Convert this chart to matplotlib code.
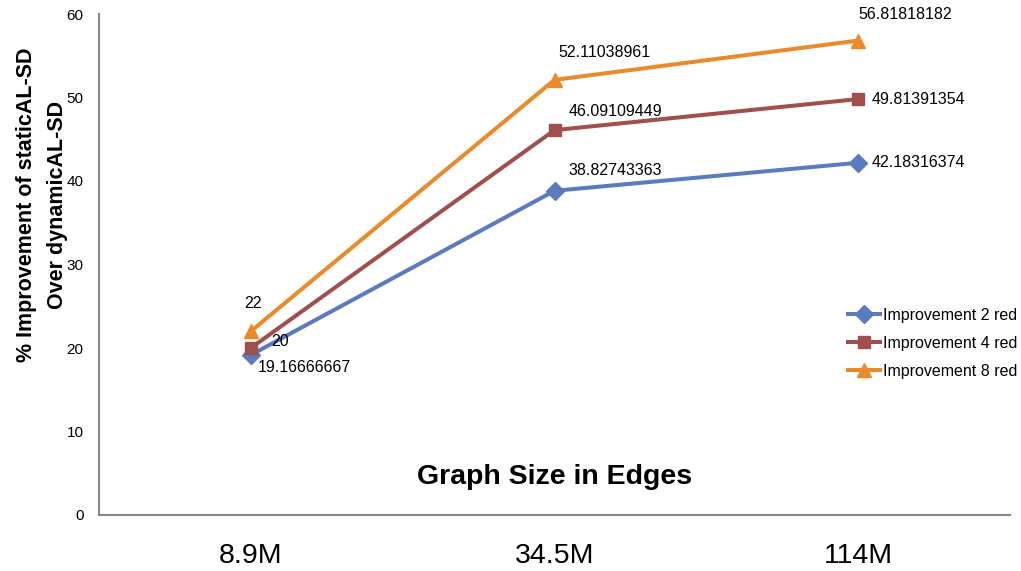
import matplotlib.pyplot as plt

plt.rcParams['font.family'] = ['Liberation Sans', 'DejaVu Sans']

sizes = ['8.9M', '34.5M', '114M']
improve_2 = [19.16666667, 38.82743363, 42.18316374]
improve_4 = [20, 46.09109449, 49.81391354]
improve_8 = [22, 52.11038961, 56.81818182]

series = [
    ('Improvement 2 red', improve_2, '#5A7BBE', 'D', 9.5,
     [(54, -13), (61, 20), (60, 0)]),
    ('Improvement 4 red', improve_4, '#A04F4D', 's', 9,
     [(29, 7), (61, 19), (60, 0)]),
    ('Improvement 8 red', improve_8, '#EB8A2A', '^', 10.5,
     [(2, 28), (50, 27), (47, 26)]),
]

fig = plt.figure(figsize=(10.21, 5.71), dpi=100)
ax = fig.add_axes([99 / 1021, 1 - 515 / 571, 911 / 1021, 501 / 571])

x = [0.5, 1.5, 2.5]
for name, vals, color, marker, ms, offsets in series:
    ax.plot(x, vals, color=color, linewidth=2.9, marker=marker,
            markersize=ms, label=name)
    for xi, v, off in zip(x, vals, offsets):
        ax.annotate('%g' % v if v == int(v) else '%.8f' % v, (xi, v),
                    xytext=off, textcoords='offset pixels',
                    ha='center', va='center', fontsize=11.5)

ax.set_xlim(0, 3)
ax.set_ylim(0, 60)
ax.set_yticks(range(0, 61, 10))
ax.set_xticks(x)
ax.set_xticklabels(sizes, fontsize=20.5)
ax.tick_params(axis='y', length=0, pad=11, labelsize=11)
ax.tick_params(axis='x', length=0, pad=20)

for side in ['top', 'right']:
    ax.spines[side].set_visible(False)
for side in ['left', 'bottom']:
    ax.spines[side].set_color('#888888')
    ax.spines[side].set_linewidth(1.5)

ax.text(0.5, 0.075, 'Graph Size in Edges', transform=ax.transAxes,
        ha='center', va='center', fontsize=20.5, fontweight='bold')

fig.text(42 / 1021, 1 - 205 / 571,
         '% Improvement of staticAL-SD\nOver dynamicAL-SD',
         rotation=90, ha='center', va='center', fontsize=15.5,
         fontweight='bold', linespacing=1.6)

ax.legend(loc='upper left', bbox_to_anchor=(848 / 1021, 1 - 308 / 571),
          bbox_transform=fig.transFigure, frameon=False, fontsize=11.5,
          borderpad=0, borderaxespad=0, handlelength=2.0,
          handletextpad=0.2, labelspacing=0.8)

fig.savefig('out.png', dpi=100)
